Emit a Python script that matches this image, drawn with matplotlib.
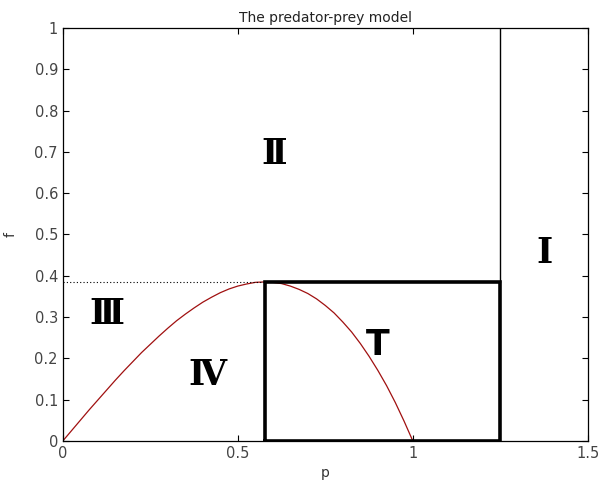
import matplotlib
matplotlib.use("Agg")
import matplotlib.pyplot as plt

# Equilibrium curve f(p), sampled values
p_vals = [0.0, 0.025, 0.05, 0.075, 0.1, 0.125, 0.15, 0.175, 0.2, 0.225, 0.25, 0.275,
          0.3, 0.325, 0.35, 0.375, 0.4, 0.425, 0.45, 0.475, 0.5, 0.525, 0.55, 0.577,
          0.6, 0.625, 0.65, 0.675, 0.7, 0.725, 0.75, 0.775, 0.8, 0.825, 0.85, 0.875,
          0.9, 0.925, 0.95, 0.975, 1.0]
f_vals = [0.0, 0.025, 0.050, 0.075, 0.099, 0.123, 0.147, 0.170, 0.192, 0.214, 0.234,
          0.254, 0.273, 0.291, 0.307, 0.322, 0.336, 0.348, 0.359, 0.368, 0.375, 0.380,
          0.384, 0.385, 0.384, 0.381, 0.375, 0.367, 0.357, 0.344, 0.328, 0.310, 0.288,
          0.264, 0.236, 0.205, 0.171, 0.134, 0.093, 0.048, 0.0]

f_peak = 0.385
p_peak = 0.577
p_wall = 1.25

regions = ["Ⅰ", "Ⅱ", "Ⅲ", "Ⅳ", "T"]
region_p = [1.377, 0.603, 0.126, 0.414, 0.900]
region_f = [0.455, 0.695, 0.307, 0.160, 0.232]
region_font = ["DejaVu Serif", "DejaVu Serif", "DejaVu Serif", "DejaVu Serif", "DejaVu Sans"]
region_weight = ["bold", "bold", "bold", "bold", "bold"]

x_ticks = [0, 0.5, 1, 1.5]
x_tick_labels = ["0", "0.5", "1", "1.5"]
y_ticks = [0, 0.1, 0.2, 0.3, 0.4, 0.5, 0.6, 0.7, 0.8, 0.9, 1.0]
y_tick_labels = ["0", "0.1", "0.2", "0.3", "0.4", "0.5", "0.6", "0.7", "0.8", "0.9", "1"]

fig = plt.figure(figsize=(5.98, 4.98), dpi=100)
ax = fig.add_axes([0.105, 0.1145, 0.878, 0.8295])

ax.plot(p_vals, f_vals, color="#a01010", lw=0.9)
ax.plot([0, p_peak], [f_peak, f_peak], color="black", lw=0.8, ls=(0, (1, 2)))
ax.plot([p_peak, p_wall, p_wall, p_peak, p_peak], [0, 0, f_peak, f_peak, 0],
        color="black", lw=2.6, solid_joinstyle="miter")
ax.plot([p_wall, p_wall], [f_peak, 1], color="black", lw=1.0)

for lab, px, fy, fam, wt in zip(regions, region_p, region_f, region_font, region_weight):
    ax.text(px, fy, lab, fontsize=25, fontweight=wt, ha="center", va="center",
            family=[fam])

ax.set_xlim(0, 1.5)
ax.set_ylim(0, 1)
ax.set_xticks(x_ticks)
ax.set_xticklabels(x_tick_labels)
ax.set_yticks(y_ticks)
ax.set_yticklabels(y_tick_labels)
ax.tick_params(direction="in", top=True, right=True, labelsize=10.5,
               labelcolor="#444444", length=4, width=0.8)
for s in ax.spines.values():
    s.set_linewidth(0.9)

ax.set_xlabel("p", fontsize=10, color="#333333", labelpad=4)
ax.set_ylabel("f", fontsize=10, color="#333333", labelpad=12)
ax.set_title("The predator-prey model", fontsize=10, color="#222222", pad=4)

fig.savefig("out.png", dpi=100)
